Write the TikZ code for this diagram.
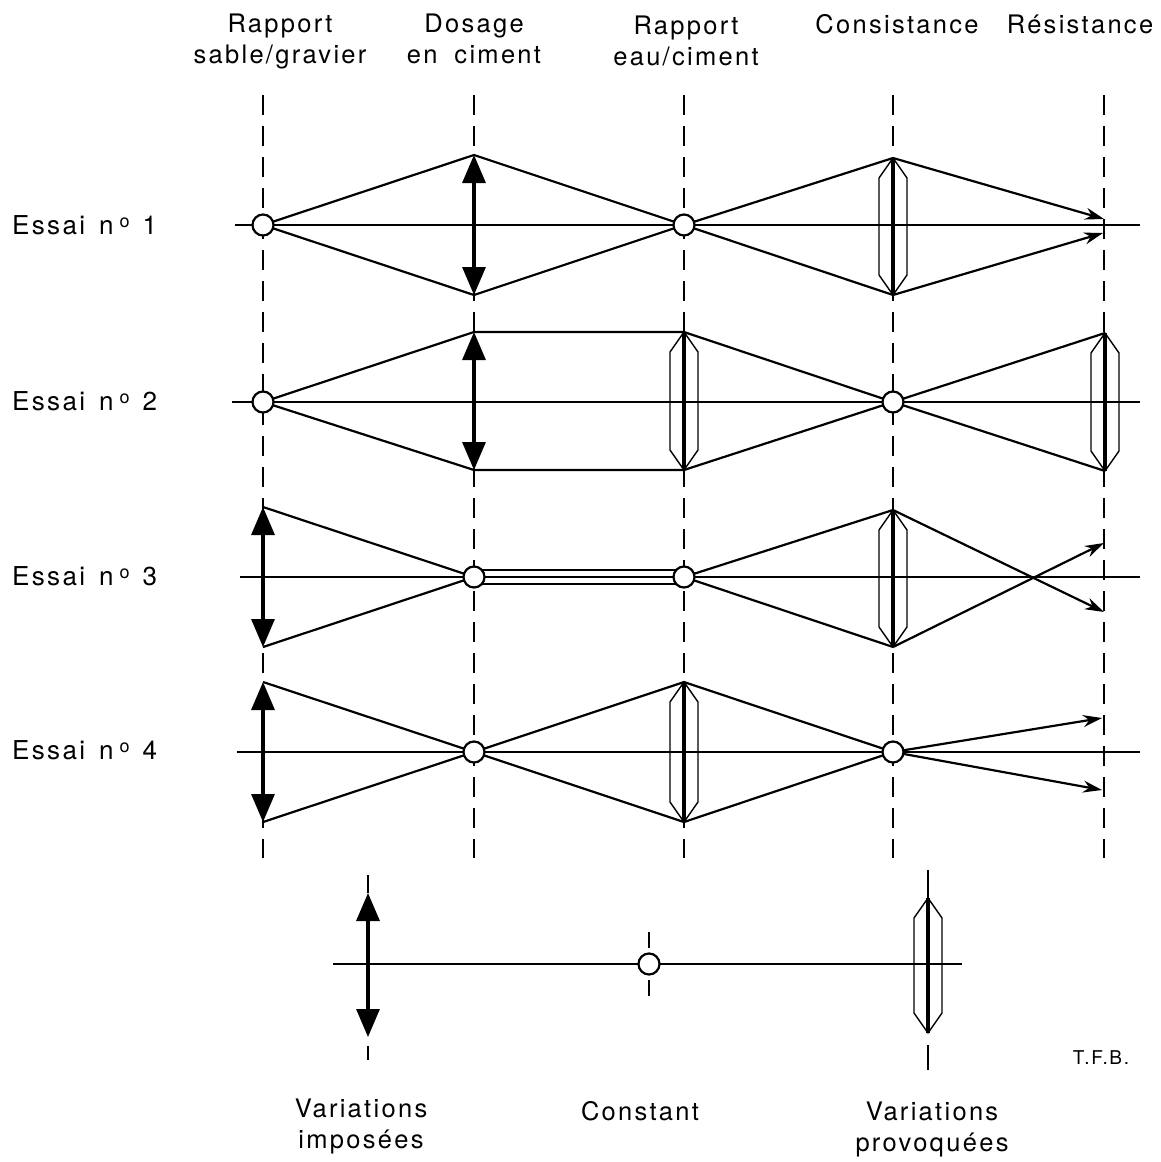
\documentclass[tikz,border=0pt]{standalone}
\usepackage{fontspec}
\setmainfont{TeX Gyre Heros}[LetterSpace=9, WordSpace=1.8]
\usetikzlibrary{arrows.meta}
\newcommand\lensshape[3]{%
  \draw[lensthin] (#1,#2) -- (#1-14,#2+20) -- (#1-14,#3-20) -- (#1,#3) -- (#1+14,#3-20) -- (#1+14,#2+20) -- cycle;
  \draw[lensthick] (#1,#2) -- (#1,#3);
}
\newcommand\essai[1]{Essai\hspace{14pt}n\hspace{6pt}{\fontsize{18}{18}\selectfont\raisebox{7pt}{o}}\hspace{13pt}#1}
\begin{document}
\begin{tikzpicture}[x=1pt,y=-1pt,
  ax/.style={line width=1.2pt},
  guide/.style={line width=1.2pt, dash pattern=on 20pt off 11pt},
  ray/.style={line width=2.2pt},
  lensthin/.style={line width=1.4pt, line join=round},
  lensthick/.style={line width=3.4pt},
  var/.style={line width=3.2pt, {Triangle[length=28pt,width=23pt]}-{Triangle[length=28pt,width=23pt]}},
  res/.style={line width=2.2pt, -{Stealth[length=19pt,width=12pt]}},
  const/.style={circle, draw, fill=white, line width=2.2pt, minimum size=21pt, inner sep=0pt},
  lbl/.style={font=\fontsize{25.5}{31}\selectfont, align=center, inner sep=0pt},
  ess/.style={font=\fontsize{26}{30}\selectfont, inner sep=0pt, anchor=base west},
  ]
\useasboundingbox (0,0) rectangle (1160,1162);

% headers
\node[lbl, anchor=north] (h1) at (280,14) {Rapport\\sable/gravier};
\node[lbl, anchor=north] (h2) at (474,14) {Dosage\\en ciment};
\node[lbl, anchor=north] (h3) at (686,16) {Rapport\\eau/ciment};
\node[lbl, anchor=base] (h4) at (897,33) {Consistance};
\node[lbl, anchor=base] (h5) at (1080,33) {Résistance};

% row labels
\node[ess] (e1) at (12,234) {\essai{1}};
\node[ess] (e2) at (12,410) {\essai{2}};
\node[ess] (e3) at (12,585) {\essai{3}};
\node[ess] (e4) at (12,759) {\essai{4}};

% guides
\foreach \x in {263,474,684,893,1104} \draw[guide] (\x,95) -- (\x,858);

% axes
\draw[ax] (235,225) -- (1140,225);
\draw[ax] (232,402) -- (1140,402);
\draw[ax] (240,577) -- (1140,577);
\draw[ax] (237,752) -- (1140,752);

% ---------- Essai 1
\coordinate (c11) at (263,225);
\coordinate (a1t) at (474,155);
\coordinate (a1b) at (474,295);
\coordinate (c13) at (684,225);
\coordinate (l1t) at (893,158);
\coordinate (l1b) at (893,295);
\coordinate (r1a) at (1104,219);
\coordinate (r1b) at (1103,233);
\draw[ray] (c11) -- (a1t) -- (c13) -- (l1t);
\draw[ray] (c11) -- (a1b) -- (c13) -- (l1b);
\draw[var] (a1t) -- (a1b);
\lensshape{893}{158}{295}
\draw[res] (l1t) -- (r1a);
\draw[res] (l1b) -- (r1b);
\node[const] (k11) at (c11) {};
\node[const] (k13) at (c13) {};

% ---------- Essai 2
\coordinate (c21) at (263,402);
\coordinate (a2t) at (474,332);
\coordinate (a2b) at (474,470);
\coordinate (l2t) at (684,332);
\coordinate (l2b) at (684,470);
\coordinate (c24) at (893,402);
\coordinate (m2t) at (1105,333);
\coordinate (m2b) at (1105,471);
\draw[ray] (c21) -- (a2t) -- (l2t) -- (c24) -- (m2t);
\draw[ray] (c21) -- (a2b) -- (l2b) -- (c24) -- (m2b);
\draw[var] (a2t) -- (a2b);
\lensshape{684}{332}{470}
\lensshape{1105}{333}{471}
\node[const] (k21) at (c21) {};
\node[const] (k24) at (c24) {};

% ---------- Essai 3
\coordinate (a3t) at (263,507);
\coordinate (a3b) at (263,647);
\coordinate (c32) at (474,577);
\coordinate (c33) at (684,577);
\coordinate (l3t) at (893,510);
\coordinate (l3b) at (893,647);
\coordinate (r3a) at (1104,543);
\coordinate (r3b) at (1104,612);
\draw[ray] (a3t) -- (c32);
\draw[ray] (a3b) -- (c32);
\draw[line width=1.6pt] ([yshift=-7pt]c32) -- ([yshift=-7pt]c33);
\draw[line width=1.6pt] ([yshift=7pt]c32) -- ([yshift=7pt]c33);
\draw[ray] (l3t) -- (c33) -- (l3b);
\draw[var] (a3t) -- (a3b);
\lensshape{893}{510}{647}
\draw[res] (l3t) -- (r3b);
\draw[res] (l3b) -- (r3a);
\node[const] (k32) at (c32) {};
\node[const] (k33) at (c33) {};

% ---------- Essai 4
\coordinate (a4t) at (263,682);
\coordinate (a4b) at (263,822);
\coordinate (c42) at (474,752);
\coordinate (l4t) at (684,682);
\coordinate (l4b) at (684,822);
\coordinate (c44) at (893,752);
\coordinate (r4a) at (1102,718);
\coordinate (r4b) at (1102,790);
\draw[ray] (a4t) -- (c42) -- (l4t) -- (c44);
\draw[ray] (a4b) -- (c42) -- (l4b) -- (c44);
\draw[var] (a4t) -- (a4b);
\lensshape{684}{682}{822}
\draw[res] (c44) -- (r4a);
\draw[res] (c44) -- (r4b);
\node[const] (k42) at (c42) {};
\node[const] (k44) at (c44) {};

% ---------- legend
\draw[ax] (333,964) -- (962,964);
\coordinate (va) at (368,893);
\coordinate (vb) at (368,1037);
\draw[ax] (368,875) -- (va);
\draw[var] (va) -- (vb);
\draw[ax] (368,1046) -- (368,1060);
\draw[ax] (649,932) -- (649,948);
\draw[ax] (649,980) -- (649,996);
\node[const] (kc) at (649,964) {};
\draw[ax] (928,870) -- (928,898);
\lensshape{928}{898}{1033}
\draw[ax] (928,1045) -- (928,1070);

\node[lbl, anchor=north] (t1) at (361,1099) {Variations\\imposées};
\node[lbl, anchor=base] (t2) at (640,1120) {Constant};
\node[lbl, anchor=north] (t3) at (932,1102) {Variations\\provoquées};
\node[font=\fontsize{19}{22}\selectfont, inner sep=0pt, anchor=base] (tfb) at (1101,1064) {T.F.B.};
\end{tikzpicture}
\end{document}
